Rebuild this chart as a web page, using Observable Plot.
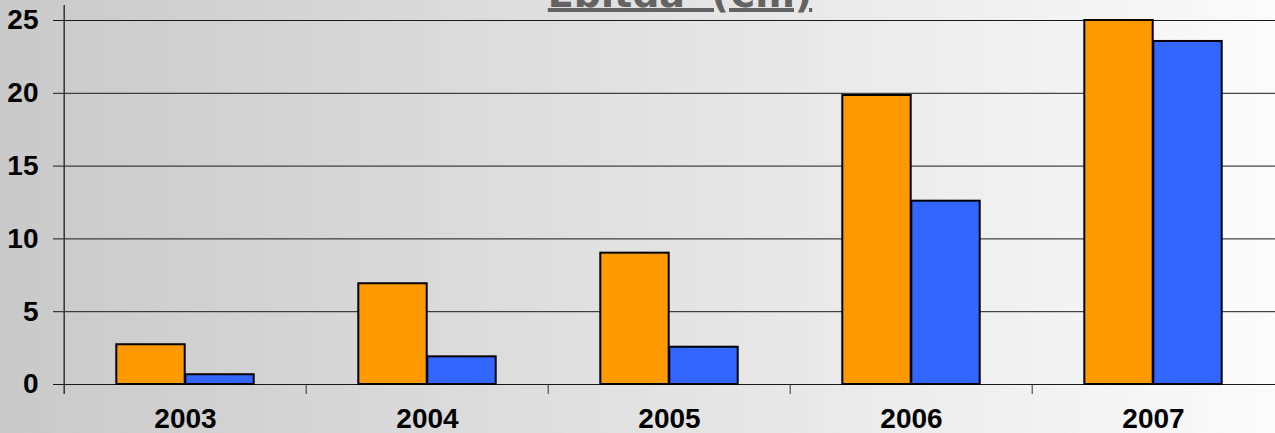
<!DOCTYPE html>
<html>
<head>
<meta charset="utf-8">
<script src="https://cdn.jsdelivr.net/npm/d3@7"></script>
<script src="https://cdn.jsdelivr.net/npm/@observablehq/plot@0.6"></script>
<style>
  html, body { margin: 0; padding: 0; }
  #wrap {
    position: relative; width: 1275px; height: 433px; overflow: hidden;
    background: linear-gradient(to right, #c9c9c9, #e2e2e2 50%, #fbfbfb);
  }
  #title {
    position: absolute; left: 680px; top: -25px; transform: translateX(-50%);
    font-family: "DejaVu Sans", sans-serif; font-weight: bold; font-size: 38px; line-height: 1;
    color: #636363; white-space: pre;
    text-decoration: underline; text-decoration-thickness: 4px; text-underline-offset: 1px;
  }
  svg { position: absolute; left: 0; top: 0; }
</style>
</head>
<body>
<div id="wrap"><div id="title">Ebitda  (€m)</div></div>
<script>
const years = ["2003", "2004", "2005", "2006", "2007"];
const seriesOrange = [2.73, 6.92, 9.02, 19.85, 25.0];
const seriesBlue = [0.67, 1.90, 2.56, 12.59, 23.56];
const yTicks = [0, 5, 10, 15, 20, 25];

const W = 1275, H = 433, ML = 62, MR = 0, MT = 20, MB = 49;
const bw = (W - ML - MR) / years.length;
const barW = 69;

const orangeData = years.map((y, i) => ({year: y, value: seriesOrange[i]}));
const blueData = years.map((y, i) => ({year: y, value: seriesBlue[i]}));

const chart = Plot.plot({
  width: W, height: H,
  marginLeft: ML, marginRight: MR, marginTop: MT, marginBottom: MB,
  style: {background: "transparent", fontFamily: "Liberation Sans, Arial, sans-serif", fontSize: "28px", fontWeight: "bold", color: "black"},
  x: {domain: years, padding: 0},
  y: {domain: [0, 25]},
  marks: [
    Plot.ruleY(yTicks, {stroke: "#1a1a1a", strokeWidth: 1}),
    Plot.axisY({ticks: yTicks, tickSize: 9, tickPadding: 15, label: null, stroke: "#1a1a1a"}),
    Plot.barY(orangeData, {x: "year", y: "value", fill: "#FF9900", stroke: "black", strokeWidth: 2,
      insetLeft: bw / 2 - barW, insetRight: bw / 2}),
    Plot.barY(blueData, {x: "year", y: "value", fill: "#3366FF", stroke: "black", strokeWidth: 2,
      insetLeft: bw / 2, insetRight: bw / 2 - barW}),
    Plot.ruleX([years[0]], {dx: -bw / 2, insetTop: -15, insetBottom: -10, stroke: "#333", strokeWidth: 1.5}),
    Plot.axisX({ticks: years.slice(1), tickSize: 10, dx: -bw / 2, fill: "none", stroke: "#333", label: null}),
    Plot.axisX({tickSize: 0, tickPadding: 24, label: null})
  ]
});
document.getElementById("wrap").appendChild(chart);
</script>
</body>
</html>
